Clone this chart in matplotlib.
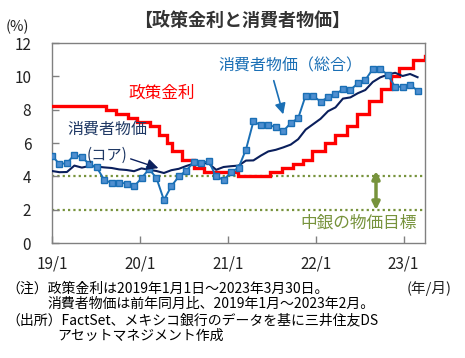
import matplotlib
matplotlib.use("Agg")
import matplotlib.pyplot as plt
import matplotlib.patches as mpatches
import numpy as np
import pandas as pd

plt.rcParams['font.family'] = ['Noto Sans CJK JP', 'DejaVu Sans']

# ---- data ----
policy_dates = ["2019-01-01", "2019-08-15", "2019-09-26", "2019-11-14", "2019-12-19",
                "2020-02-13", "2020-03-20", "2020-04-21", "2020-05-14", "2020-06-25",
                "2020-08-13", "2020-09-24", "2021-02-11", "2021-06-24", "2021-08-12",
                "2021-09-30", "2021-11-11", "2021-12-16", "2022-02-10", "2022-03-24",
                "2022-05-12", "2022-06-23", "2022-08-11", "2022-09-29", "2022-11-10",
                "2022-12-15", "2023-02-09", "2023-03-30"]
policy_rate = [8.25, 8.00, 7.75, 7.50, 7.25, 7.00, 6.50, 6.00, 5.50, 5.00,
               4.50, 4.25, 4.00, 4.25, 4.50, 4.75, 5.00, 5.50, 6.00, 6.50,
               7.00, 7.75, 8.50, 9.25, 10.00, 10.50, 11.00, 11.25]

# monthly CPI (YoY %), 2019/1 - 2023/2 (secondary scale 0-10)
cpi_headline = [4.37, 3.94, 4.00, 4.41, 4.28, 3.95, 3.78, 3.16, 3.00, 3.02, 2.97, 2.83,
                3.24, 3.70, 3.25, 2.15, 2.84, 3.33, 3.62, 4.05, 4.01, 4.09, 3.33, 3.15,
                3.54, 3.76, 4.67, 6.08, 5.89, 5.88, 5.81, 5.59, 6.00, 6.24, 7.37, 7.36,
                7.07, 7.28, 7.45, 7.68, 7.65, 7.99, 8.15, 8.70, 8.70, 8.41, 7.80, 7.82,
                7.91, 7.62]
cpi_core = [3.60, 3.54, 3.55, 3.87, 3.77, 3.85, 3.82, 3.78, 3.75, 3.68, 3.65, 3.59,
            3.73, 3.66, 3.60, 3.50, 3.64, 3.71, 3.85, 3.97, 3.99, 3.98, 3.66, 3.80,
            3.84, 3.87, 4.12, 4.13, 4.37, 4.58, 4.66, 4.78, 4.92, 5.19, 5.67, 5.94,
            6.21, 6.59, 6.78, 7.22, 7.28, 7.49, 7.65, 8.05, 8.28, 8.42, 8.51, 8.35,
            8.45, 8.29]
target_band = [2, 4]

x_tick_dates = ["2019-01-01", "2020-01-01", "2021-01-01", "2022-01-01", "2023-01-01"]
x_tick_labels = ["19/1", "20/1", "21/1", "22/1", "23/1"]
y_ticks = [0, 2, 4, 6, 8, 10, 12]

RED = "#ff0000"
NAVY = "#0a1f5c"
NAVY_T = "#1f3864"
BLUE = "#1a6fb5"
OLIVE = "#77933c"

W, H = 465, 358
fig = plt.figure(figsize=(W / 100, H / 100), dpi=100)

def P(x, y):
    return (x / W, 1 - y / H)

L, R, T, B = 52, 425, 43, 243
rect = [L / W, 1 - B / H, (R - L) / W, (B - T) / H]
ax = fig.add_axes(rect)
ax2 = fig.add_axes(rect, frameon=False)
ax2.patch.set_visible(False)

# primary: policy rate on date axis
pdates = pd.to_datetime(policy_dates)
ax.step(pdates, policy_rate, where="post", color=RED, lw=2.4, zorder=3,
        solid_joinstyle="miter")
for v in target_band:
    ax.axhline(v, color=OLIVE, lw=1.6, ls=(0, (1, 1.4)), zorder=1)

ax.set_xlim(pd.Timestamp("2019-01-01"), pd.Timestamp("2023-03-31"))
ax.set_ylim(0, 12)
ax.set_yticks(y_ticks)
ax.set_yticklabels([str(v) for v in y_ticks])
ax.set_xticks(pd.to_datetime(x_tick_dates))
ax.set_xticklabels(x_tick_labels)
ax.tick_params(axis="both", direction="in", length=5, width=1, color="#808080",
               labelsize=11, labelcolor="#222222")
ax.tick_params(axis="y", pad=15)
ax.tick_params(axis="x", pad=9)
for s in ax.spines.values():
    s.set_color("#808080")
    s.set_linewidth(1)

# secondary (hidden): CPI on monthly category axis, 0-10
idx = np.arange(len(cpi_headline))
ax2.set_xlim(0, 50)
ax2.set_ylim(0, 10)
ax2.axis("off")
ax2.plot(idx, cpi_core, color=NAVY, lw=1.5, zorder=2)
ax2.plot(idx, cpi_headline, color=BLUE, lw=1.4, marker="s", ms=4.2,
         mfc="#4f8fd0", mec=BLUE, mew=1.0, zorder=4)

# texts
fig.text(*P(242, 20), "【政策金利と消費者物価】", ha="center", va="center",
         fontsize=13, fontweight="bold", color="#333333")
fig.text(*P(17, 27), "(%)", ha="center", va="center", fontsize=10.5, color="#222222")
fig.text(*P(162, 93), "政策金利", ha="center", va="center", fontsize=12, color=RED)
fig.text(*P(107, 129), "消費者物価", ha="center", va="center", fontsize=11.5, color=NAVY_T)
fig.text(*P(107, 155), "(コア)", ha="center", va="center", fontsize=11, color=NAVY_T)
fig.text(*P(290, 66), "消費者物価（総合）", ha="center", va="center", fontsize=11.5, color=BLUE)
fig.text(*P(359, 223), "中銀の物価目標", ha="center", va="center", fontsize=12, color=OLIVE)

fig.add_artist(mpatches.FancyArrowPatch(
    P(128, 158), P(161, 169), transform=fig.transFigure,
    arrowstyle="-|>", mutation_scale=17, color=NAVY, lw=1.0))
fig.add_artist(mpatches.FancyArrowPatch(
    P(273, 78), P(284, 117), transform=fig.transFigure,
    arrowstyle="-|>", mutation_scale=16, color=BLUE, lw=1.2))
fig.add_artist(mpatches.FancyArrowPatch(
    P(376, 171), P(376, 210), transform=fig.transFigure,
    arrowstyle="<|-|>", mutation_scale=11, color=OLIVE, lw=2.5,
    shrinkA=0, shrinkB=0))

# notes
fs = 10
fig.text(*P(429, 289), "(年/月)", ha="center", va="center", fontsize=10.5, color="#222222")
fig.text(*P(6, 289), "（注）政策金利は2019年1月1日～2023年3月30日。",
         ha="left", va="center", fontsize=fs)
fig.text(*P(47, 304), "消費者物価は前年同月比、2019年1月～2023年2月。",
         ha="left", va="center", fontsize=fs)
fig.text(*P(6, 320), "（出所）FactSet、メキシコ銀行のデータを基に三井住友DS",
         ha="left", va="center", fontsize=fs)
fig.text(*P(57, 336), "アセットマネジメント作成", ha="left", va="center", fontsize=fs)

fig.savefig("out.png", dpi=100)
